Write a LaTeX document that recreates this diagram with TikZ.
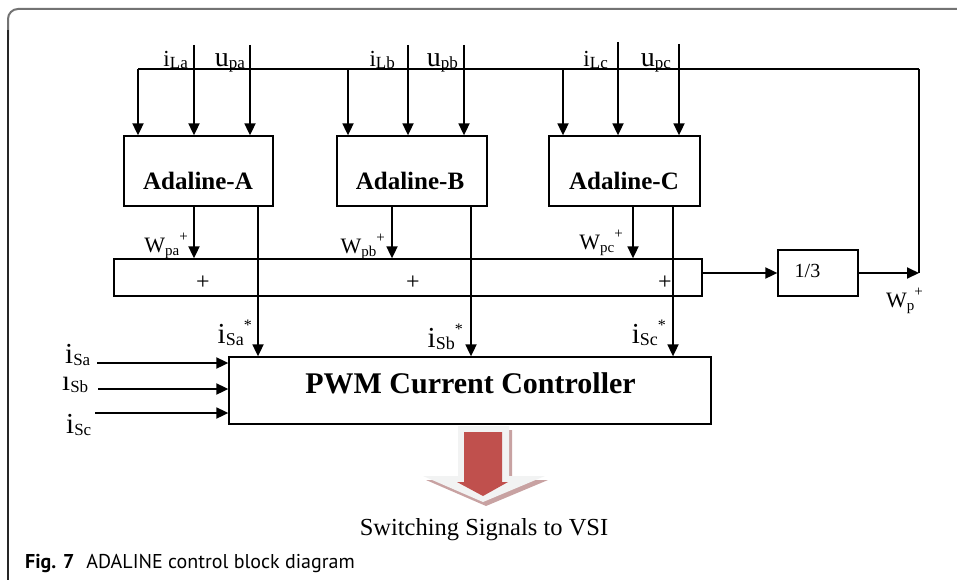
\documentclass[tikz,border=0pt]{standalone}
\usepackage{fontspec}
\setmainfont{Liberation Serif}
\newfontfamily\capfont{PT Sans}
\usetikzlibrary{arrows.meta}
\newcommand{\fsz}[1]{\fontsize{#1}{#1}\selectfont}
% main letter, subscript, main size
\newcommand{\inlab}[3]{{\fsz{#3}#1}\raisebox{-2pt}{\fsz{17}#2}}
\newcommand{\wlab}[1]{{\fsz{22}W}\raisebox{-3pt}{\fsz{15}#1}\raisebox{11pt}{\fsz{15}+}}
\newcommand{\slab}[1]{{\fsz{29}i}\raisebox{-2pt}{\fsz{18}#1}\raisebox{13pt}{\fsz{16}*}}
\definecolor{redA}{HTML}{C0504D}
\definecolor{shadowA}{HTML}{C8A2A2}
\definecolor{lightA}{HTML}{F2F3F3}
\begin{document}
\begin{tikzpicture}[x=1pt,y=-1pt,
  box/.style={draw, line width=1.3pt, inner sep=0pt},
  arr/.style={line width=1.8pt, -{Triangle[length=12pt,width=11pt]}},
  ln/.style={line width=1.8pt},
  bus/.style={line width=1.3pt},
  txt/.style={inner sep=0pt, anchor=base east},
  txtw/.style={inner sep=0pt, anchor=base west},
  ttl/.style={inner sep=0pt, anchor=base, font=\fsz{25}\bfseries},
]
\useasboundingbox (0,0) rectangle (957,580);
% frame
\draw[color=black!55, line width=2pt, rounded corners=10pt] (957,9) -- (8,9) -- (8,40);
\draw[color=black!85, line width=1.2pt] (8,30) -- (8,580);

% boxes
\node[box, minimum width=149pt, minimum height=70pt] (adA) at (198.5,171) {};
\node[box, minimum width=150pt, minimum height=70pt] (adB) at (412,171) {};
\node[box, minimum width=151pt, minimum height=70pt] (adC) at (624.5,171) {};
\node[ttl] (tA) at (198,189) {Adaline-A};
\node[ttl] (tB) at (410,189) {Adaline-B};
\node[ttl] (tC) at (624,189) {Adaline-C};
\node[box, minimum width=588pt, minimum height=37pt] (sum) at (408,277.5) {};
\node[inner sep=0pt, font=\fsz{24}] (p1) at (203,283) {+};
\node[inner sep=0pt, font=\fsz{24}] (p2) at (413,283) {+};
\node[inner sep=0pt, font=\fsz{24}] (p3) at (665,283) {+};
\node[box, minimum width=80pt, minimum height=46pt] (third) at (818,273) {};
\node[inner sep=0pt, anchor=base, font=\fsz{20}] (t3) at (807.5,277) {1/3};
\node[box, minimum width=482pt, minimum height=67pt] (pwm) at (470,390.5) {};
\node[inner sep=0pt, anchor=base, font=\fsz{30}\bfseries] (tpwm) at (470.5,393) {PWM Current Controller};

% bus (W_p feedback)
\coordinate (busL) at (138,69);
\coordinate (busB) at (348,69);
\coordinate (busC) at (563,69);
\coordinate (busR) at (919,69);
\draw[bus] (busL) -- (busR);
\draw[ln] (busR) -- (busR |- third.east);
\draw[arr] (third.east) -- (busR |- third.east);
\draw[arr] (busL) -- (busL |- adA.north);
\draw[arr] (busB) -- (busB |- adB.north);
\draw[arr] (busC) -- (busC |- adC.north);

% top inputs
\coordinate (iLa) at (194,45);
\coordinate (upa) at (250,45);
\coordinate (iLb) at (408,45);
\coordinate (upb) at (464,45);
\coordinate (iLc) at (618,42);
\coordinate (upc) at (679,44);
\draw[arr] (iLa) -- (iLa |- adA.north);
\draw[arr] (upa) -- (upa |- adA.north);
\draw[arr] (iLb) -- (iLb |- adB.north);
\draw[arr] (upb) -- (upb |- adB.north);
\draw[arr] (iLc) -- (iLc |- adC.north);
\draw[arr] (upc) -- (upc |- adC.north);
\node[txt] (liLa) at (188,67) {\inlab{i}{La}{23}};
\node[txt] (lupa) at (245,67) {\inlab{u}{pa}{28}};
\node[txt] (liLb) at (395,67) {\inlab{i}{Lb}{23}};
\node[txt] (lupb) at (458,67) {\inlab{u}{pb}{28}};
\node[txt] (liLc) at (608,67) {\inlab{i}{Lc}{23}};
\node[txt] (lupc) at (671,67) {\inlab{u}{pc}{28}};

% W outputs to summer
\coordinate (wa) at (194,0);
\coordinate (wb) at (392,0);
\coordinate (wc) at (633,0);
\draw[arr] (wa |- adA.south) -- (wa |- sum.north);
\draw[arr] (wb |- adB.south) -- (wb |- sum.north);
\draw[arr] (wc |- adC.south) -- (wc |- sum.north);
\node[txt] (lwa) at (188,252) {\wlab{pa}};
\node[txt] (lwb) at (385,253) {\wlab{pb}};
\node[txt] (lwc) at (623,249) {\wlab{pc}};

% summer to 1/3
\draw[arr] (sum.east |- third.west) -- (third.west);
\node[txtw] (lwp) at (886,307) {\wlab{p}};

% reference currents
\coordinate (sa) at (258,0);
\coordinate (sb) at (471,0);
\coordinate (sc) at (673,0);
\draw[arr] (sa |- adA.south) -- (sa |- pwm.north);
\draw[arr] (sb |- adB.south) -- (sb |- pwm.north);
\draw[arr] (sc |- adC.south) -- (sc |- pwm.north);
\node[txt] (lsa) at (252,343) {\slab{Sa}};
\node[txt] (lsb) at (463,347) {\slab{Sb}};
\node[txt] (lsc) at (666,343) {\slab{Sc}};

% measured currents
\coordinate (ina) at (97,363);
\coordinate (inb) at (98,389);
\coordinate (inc) at (95,413);
\draw[arr] (ina) -- (ina -| pwm.west);
\draw[arr] (inb) -- (inb -| pwm.west);
\draw[arr] (inc) -- (inc -| pwm.west);
\node[txtw] (lia) at (65,363) {\inlab{i}{Sa}{29}};
\node[txtw] (lib) at (62,390) {\inlab{ı}{Sb}{29}};
\node[txtw] (lic) at (66,433) {\inlab{i}{Sc}{29}};

% output arrow
\fill[shadowA] (461,430) -- (512,430) -- (512,480) -- (548,480) -- (486,506) -- (426,480) -- (461,480) -- cycle;
\fill[lightA] (458,426) -- (509,426) -- (509,476) -- (545,476) -- (483,502) -- (423,476) -- (458,476) -- cycle;
\fill[redA] (464,432) -- (502,432) -- (502,482) -- (508,482) -- (483,496) -- (457,482) -- (464,482) -- cycle;
\node[inner sep=0pt, anchor=base, font=\fsz{24.5}] (sw) at (484,535) {Switching Signals to VSI};

% caption
\node[inner sep=0pt, anchor=base west, font=\capfont\fsz{20}] (cap) at (25,568) {\textbf{Fig. 7}\hspace{0.6em}ADALINE control block diagram};
\end{tikzpicture}
\end{document}
